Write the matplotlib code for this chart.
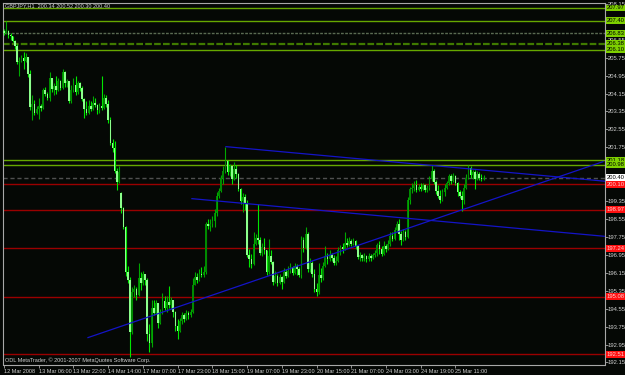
import numpy as np
import matplotlib
matplotlib.use('Agg')
import matplotlib.pyplot as plt
from matplotlib.transforms import blended_transform_factory

# MetaTrader style GBPJPY H1 chart
plt.rcParams['font.family'] = ['Liberation Sans', 'DejaVu Sans']

title = 'GBPJPY,H1  200.34 200.52 200.30 200.40'
copyright_text = 'ODL MetaTrader, \u00a9 2001-2007 MetaQuotes Software Corp.'

first_open = 206.95
gap_bar = 54        # monday 17 Mar opens with a gap
gap_open = 199.70

closes = [206.85, 206.95, 206.75, 206.70, 206.50, 206.25, 205.55, 205.60, 205.75, 205.60,
          205.80, 205.00, 203.55, 203.70, 203.30, 203.45, 203.60, 203.50, 204.30, 204.15,
          203.95, 204.85, 204.35, 204.50, 204.30, 204.70, 204.40, 205.10, 204.60, 204.70,
          203.80, 204.30, 204.55, 204.20, 204.60, 204.40, 203.90, 203.45, 203.30, 203.60,
          203.45, 203.75, 203.65, 203.40, 203.60, 203.50, 203.95, 203.70, 202.95, 201.95,
          201.70, 200.70, 200.20, 200.65, 199.05, 198.20, 196.20, 195.85, 193.50, 195.30,
          195.45, 195.15, 195.90, 195.70, 196.10, 195.85, 193.40, 193.00, 194.60, 194.35,
          194.80, 193.90, 194.40, 194.90, 194.60, 194.85, 194.70, 194.95, 194.40, 193.80,
          193.55, 194.00, 194.25, 194.10, 194.35, 194.25, 194.40, 195.60, 195.95, 195.85,
          196.10, 196.05, 196.20, 198.35, 198.25, 198.35, 198.45, 198.80, 199.60, 199.80,
          200.40, 200.70, 201.15, 200.65, 200.90, 200.35, 200.80, 200.55, 199.90, 199.35,
          199.55, 199.20, 196.95, 196.75, 196.55, 197.45, 197.70, 197.60, 197.05, 197.30,
          197.15, 196.20, 196.90, 196.65, 195.75, 196.00, 195.70, 195.95, 195.75, 196.20,
          196.00, 196.25, 196.40, 196.15, 196.45, 196.30, 196.05, 197.60, 197.25, 197.90,
          196.30, 196.60, 196.10, 195.45, 195.30, 196.05, 195.90, 196.45, 196.90, 196.75,
          196.95, 196.80, 196.60, 196.70, 197.15, 197.30, 197.20, 197.50, 197.40, 197.55,
          197.45, 197.55, 197.35, 196.85, 196.95, 196.80, 196.90, 196.75, 196.90, 196.80,
          196.95, 197.05, 197.40, 197.20, 197.00, 197.35, 197.20, 197.45, 197.80, 197.65,
          198.05, 198.35, 197.90, 197.60, 197.95, 197.75, 199.40, 199.90, 199.95, 200.05,
          199.85, 200.00, 199.90, 200.05, 199.85, 199.95, 200.35, 200.70, 200.20, 199.80,
          199.60, 199.40, 199.75, 199.95, 200.15, 200.45, 200.25, 200.45, 200.15, 199.75,
          199.60, 199.40, 199.95, 200.40, 200.85, 200.50, 200.65, 200.35, 200.55, 200.40,
          200.34, 200.40]

highs = [207.05, 207.40, 207.00, 206.85, 206.72, 206.52, 206.35, 205.80, 205.85, 206.00,
         205.95, 205.60, 205.20, 204.10, 203.85, 203.60, 203.95, 203.70, 204.40, 204.45,
         204.20, 205.10, 204.80, 204.60, 204.95, 204.85, 204.75, 205.25, 205.15, 204.80,
         204.65, 204.55, 204.85, 204.95, 204.70, 204.65, 204.50, 203.95, 203.80, 203.85,
         203.80, 204.05, 203.95, 203.70, 203.75, 204.95, 204.15, 204.10, 203.85, 203.10,
         202.10, 202.05, 200.85, 200.90, 199.75, 199.10, 198.25, 196.45, 195.95, 195.50,
         195.60, 195.50, 196.60, 196.20, 196.25, 196.10, 195.90, 193.85, 194.95, 194.95,
         194.95, 194.75, 194.55, 195.25, 195.10, 195.10, 195.55, 195.05, 194.90, 194.45,
         194.10, 194.15, 194.40, 194.35, 194.50, 194.45, 194.55, 195.90, 196.20, 196.15,
         196.30, 196.40, 196.45, 198.40, 198.55, 198.55, 198.70, 199.00, 199.75, 199.95,
         200.50, 200.90, 201.78, 201.20, 201.00, 200.85, 201.10, 200.95, 200.60, 199.95,
         199.70, 199.65, 199.40, 197.20, 197.00, 197.95, 197.90, 199.20, 197.75, 197.50,
         197.70, 197.10, 197.65, 197.15, 196.70, 196.25, 196.10, 196.10, 196.00, 196.35,
         196.30, 196.45, 196.60, 196.45, 196.60, 196.55, 196.40, 197.80, 197.75, 198.20,
         197.95, 196.80, 196.70, 196.30, 195.70, 196.60, 196.35, 196.65, 197.35, 197.05,
         197.15, 197.05, 196.95, 196.90, 197.30, 197.40, 197.50, 197.95, 197.70, 197.75,
         197.65, 197.70, 197.60, 197.40, 197.10, 197.00, 197.05, 196.95, 197.05, 197.00,
         197.05, 197.15, 197.50, 197.55, 197.35, 197.55, 197.45, 197.60, 197.95, 197.95,
         198.20, 198.45, 198.55, 198.00, 198.10, 198.05, 199.55, 200.00, 200.15, 200.25,
         200.30, 200.10, 200.15, 200.15, 200.10, 200.05, 200.45, 200.98, 200.80, 200.30,
         200.05, 199.85, 199.90, 200.10, 200.25, 200.55, 200.55, 200.60, 200.50, 200.20,
         199.85, 199.80, 200.10, 200.55, 200.98, 200.90, 200.75, 200.75, 200.70, 200.65,
         200.55, 200.52]

lows = [206.75, 206.80, 206.65, 206.55, 206.45, 206.15, 205.45, 204.95, 205.55, 205.25,
        205.55, 204.90, 203.40, 202.98, 203.20, 203.25, 203.00, 203.35, 203.45, 204.05,
        203.85, 203.80, 204.20, 204.10, 204.15, 204.25, 204.30, 204.35, 204.45, 204.45,
        203.75, 203.75, 204.20, 204.10, 204.15, 204.25, 203.80, 203.05, 203.20, 203.25,
        203.35, 203.40, 203.55, 203.25, 203.30, 203.40, 203.45, 203.55, 202.85, 201.85,
        201.55, 200.60, 199.85, 200.15, 198.80, 198.10, 196.00, 195.70, 192.40, 193.40,
        195.05, 194.95, 195.10, 195.40, 195.60, 195.60, 193.10, 192.60, 192.85, 194.25,
        194.30, 193.70, 193.85, 194.30, 194.50, 194.40, 194.60, 194.55, 194.20, 193.55,
        193.20, 193.50, 193.85, 193.95, 194.05, 194.10, 194.20, 194.35, 195.60, 195.70,
        195.80, 195.95, 195.95, 196.10, 198.10, 198.00, 198.20, 198.20, 198.70, 199.50,
        199.75, 200.10, 200.60, 200.50, 200.45, 200.10, 200.30, 200.40, 199.80, 199.20,
        198.85, 198.95, 196.85, 196.40, 196.35, 196.50, 197.40, 197.45, 196.95, 196.90,
        197.00, 196.05, 196.10, 196.55, 195.60, 195.70, 195.55, 195.65, 195.45, 195.70,
        195.90, 195.95, 196.15, 196.05, 196.10, 196.05, 195.95, 195.90, 197.10, 197.20,
        196.20, 196.20, 195.95, 195.30, 195.10, 195.20, 195.75, 195.85, 196.40, 196.55,
        196.70, 196.70, 196.50, 196.50, 196.65, 196.95, 197.05, 197.15, 197.30, 197.35,
        197.35, 197.40, 197.20, 196.75, 196.70, 196.70, 196.70, 196.65, 196.70, 196.70,
        196.75, 196.85, 196.90, 197.00, 196.90, 196.95, 197.10, 197.15, 197.35, 197.55,
        197.60, 197.95, 197.60, 197.40, 197.55, 197.60, 197.70, 199.20, 199.70, 199.80,
        199.75, 199.80, 199.80, 199.85, 199.75, 199.75, 199.85, 200.25, 200.10, 199.65,
        199.50, 199.25, 199.35, 199.60, 199.90, 200.05, 200.10, 200.20, 200.05, 199.60,
        199.50, 198.92, 199.20, 199.90, 200.35, 200.40, 200.35, 199.90, 200.30, 200.30,
        200.25, 200.30]

time_labels = ['12 Mar 2008', '13 Mar 06:00', '13 Mar 22:00', '14 Mar 14:00', '17 Mar 07:00',
               '17 Mar 23:00', '18 Mar 15:00', '19 Mar 07:00', '19 Mar 23:00', '20 Mar 15:00',
               '21 Mar 07:00', '24 Mar 03:00', '24 Mar 19:00', '25 Mar 11:00']

price_ticks = [208.15, 207.35, 206.55, 205.75, 204.95, 204.15, 203.35, 202.55, 201.75, 200.95,
               200.15, 199.35, 198.55, 197.75, 196.95, 196.15, 195.35, 194.55, 193.75, 192.95,
               192.15]
# these tick texts sit under price boxes in the terminal
hidden_ticks = [207.35, 200.95, 200.15]

green_levels = [207.97, 207.40, 206.10, 201.18, 200.98]
dotted_level = 206.83
dashed_level = 206.38
red_levels = [200.10, 198.97, 197.24, 195.08, 192.51]
current_price = 200.40

# trend lines as (bar, price) pairs
trend_lines = [
    [(102.3, 201.78), (276.7, 200.24)],
    [(86.6, 199.46), (276.7, 197.78)],
    [(38.7, 193.26), (276.0, 201.11)],
]

bg = '#050805'
fs = 4.0
fs_price = 4.2
fig = plt.figure(figsize=(6.25, 3.75), dpi=100, facecolor=bg)
ax = fig.add_axes([3 / 625, 10.5 / 375, 601.5 / 625, 361.5 / 375], facecolor=bg)

# horizontal levels
for lv in green_levels:
    ax.axhline(lv, color='#66a800', lw=1.0, zorder=1)
ax.axhline(dotted_level, color='#5a6a52', lw=1.0, ls=(0, (2, 1)), zorder=1)
ax.axhline(dashed_level, color='#3f7a00', lw=1.6, ls=(0, (3, 1)), zorder=1)
for lv in red_levels:
    ax.axhline(lv, color='#9a0000', lw=1.0, zorder=1)
ax.axhline(current_price, color='#505050', lw=1.0, ls=(0, (3, 2)), zorder=1)

# candles
closes = np.array(closes)
opens = np.r_[first_open, closes[:-1]]
opens[gap_bar] = gap_open
highs = np.maximum(highs, np.maximum(opens, closes))
lows = np.minimum(lows, np.minimum(opens, closes))
idx = np.arange(len(closes))
up = closes >= opens

wick_cols = ['#00a800' if u else '#00e600' for u in up]
body_cols = ['#008a00' if u else '#8cff8c' for u in up]
ax.vlines(idx, lows, highs, colors=wick_cols, lw=0.8, zorder=3)
body_h = np.maximum(np.abs(closes - opens), 0.03)
ax.bar(idx, body_h, bottom=np.minimum(opens, closes), width=0.75,
       color=body_cols, linewidth=0, zorder=4)

# trend lines
for (x0, y0), (x1, y1) in trend_lines:
    ax.plot([x0, x1], [y0, y1], color='#1414c8', lw=0.9, zorder=5)

ax.set_xlim(-0.46, 276.7)
ax.set_ylim(192.06, 208.19)

# axes look
for side in ['left', 'top', 'right', 'bottom']:
    ax.spines[side].set_color('#a8a8a8')
    ax.spines[side].set_linewidth(0.8)

ax.yaxis.tick_right()
ax.set_yticks(price_ticks)
ax.set_yticklabels(['' if p in hidden_ticks else '%.2f' % p for p in price_ticks])
ax.tick_params(axis='y', colors='#a8a8a8', labelcolor='#d0d0d0', labelsize=fs_price,
               length=2, width=0.6, pad=0.5)

ax.set_xticks(np.arange(len(time_labels)) * 16)
ax.set_xticklabels(time_labels, ha='left')
ax.tick_params(axis='x', colors='#a8a8a8', labelcolor='#d0d0d0', labelsize=fs,
               length=2, width=0.6, pad=1.5)

# price boxes on the right axis
trans = blended_transform_factory(ax.transAxes, ax.transData)


def price_box(level, face, text_col):
    ax.text(1.004, level, '%.2f' % level, transform=trans, fontsize=fs_price,
            color=text_col, va='center', ha='left', clip_on=False, zorder=6,
            bbox=dict(boxstyle='square,pad=0.15', fc=face, ec='none'))


for lv in green_levels + [dotted_level, dashed_level]:
    price_box(lv, '#7ed000', '#000000')
for lv in red_levels:
    price_box(lv, '#ff1010', '#ffd0d0')
price_box(current_price, '#ffffff', '#000000')

ax.text(0.004, 0.9917, title, transform=ax.transAxes, fontsize=fs,
        color='#d0d0d0', va='center', ha='left', zorder=7)
ax.text(0.003, 0.012, copyright_text, transform=ax.transAxes, fontsize=fs,
        color='#d0d0d0', va='center', ha='left', zorder=7)

plt.savefig('out.png', dpi=100, facecolor=bg)
